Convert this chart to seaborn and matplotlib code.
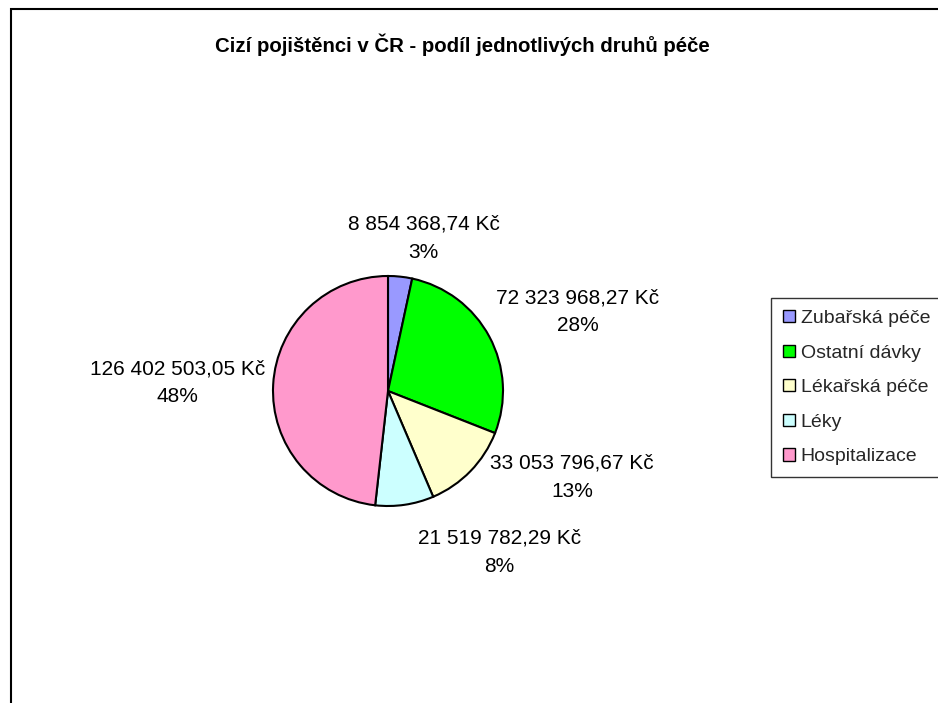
import numpy as np
import seaborn as sns
import matplotlib
matplotlib.use("Agg")
from matplotlib import pyplot as plt
from matplotlib.patches import Rectangle, Patch

# data
categories = ["Zubařská péče", "Ostatní dávky", "Lékařská péče", "Léky", "Hospitalizace"]
values = [8854368.74, 72323968.27, 33053796.67, 21519782.29, 126402503.05]
value_labels = ["8 854 368,74 Kč", "72 323 968,27 Kč", "33 053 796,67 Kč",
                "21 519 782,29 Kč", "126 402 503,05 Kč"]
colors = ["#9999FF", "#00FF00", "#FFFFCC", "#CCFFFF", "#FF99CC"]
title = "Cizí pojištěnci v ČR - podíl jednotlivých druhů péče"

# label placement (in pie radius units)
label_pos = [(0.31, 1.33), (1.65, 0.69), (1.60, -0.75), (0.97, -1.40), (-1.83, 0.07)]

sns.set_theme(style="white")
plt.rcParams["font.family"] = ["Liberation Sans", "DejaVu Sans"]

W, H = 938, 703
fig = plt.figure(figsize=(W / 100, H / 100), dpi=100)
fig.patch.set_facecolor("white")

# pie axes: centre at (388, 391) px, radius 115 px
cx, cy, R = 388, 391, 115
half = 300
ax = fig.add_axes([(cx - half) / W, (H - cy - half) / H, 2 * half / W, 2 * half / H])

wedges, _ = ax.pie(values, colors=colors, startangle=90, counterclock=False,
                   radius=1, wedgeprops=dict(edgecolor="black", linewidth=1.5))
ax.set_xlim(-half / R, half / R)
ax.set_ylim(-half / R, half / R)
ax.set_aspect("equal")
ax.axis("off")

total = sum(values)
for (x, y), lab, v in zip(label_pos, value_labels, values):
    pct = f"{round(100 * v / total):.0f}%"
    ax.text(x, y, f"{lab}\n{pct}", ha="center", va="center", fontsize=15,
            color="black", linespacing=1.6)

# title
fig.text(462 / W, 1 - 45 / H, title, ha="center", va="center",
         fontsize=14.7, fontweight="bold", color="black")

# outer frame (chart area border, partially cut off)
fig.patches.append(Rectangle((11 / W, -0.1), 1.2, 1 - 9 / H + 0.1,
                             transform=fig.transFigure, fill=False,
                             edgecolor="black", linewidth=1.5))

# legend
handles = [Patch(facecolor=c, edgecolor="black", linewidth=1) for c in colors]
leg = fig.legend(handles, categories, loc="upper left",
                 bbox_to_anchor=(771 / W, 1 - 298 / H),
                 fontsize=14, frameon=True, fancybox=False, shadow=False,
                 handlelength=0.6, handleheight=0.6, handletextpad=0.3,
                 labelspacing=0.9, borderpad=0.62, borderaxespad=0)
leg.get_frame().set_edgecolor("black")
leg.get_frame().set_linewidth(1)

fig.savefig("out.png", dpi=100, facecolor="white")
